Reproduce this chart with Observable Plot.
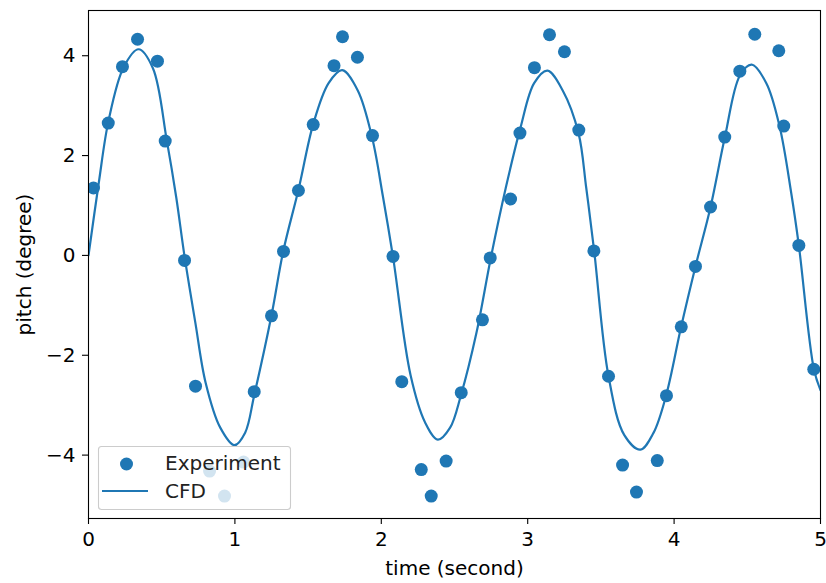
<!DOCTYPE html>
<html>
<head>
<meta charset="utf-8">
<script src="https://cdn.jsdelivr.net/npm/d3@7"></script>
<script src="https://cdn.jsdelivr.net/npm/@observablehq/plot@0.6"></script>
<style>
  html, body { margin: 0; padding: 0; background: white; }
  #chart { width: 826px; height: 583px; }
</style>
</head>
<body>
<div id="chart"></div>
<script>
// Experiment (scatter)
const expTime = [0.034, 0.135, 0.232, 0.335, 0.471, 0.524, 0.656, 0.731, 0.827, 0.929,
  1.059, 1.132, 1.25, 1.332, 1.434, 1.535, 1.677, 1.735, 1.837, 1.94,
  2.08, 2.14, 2.273, 2.341, 2.443, 2.546, 2.691, 2.744, 2.883, 2.947,
  3.046, 3.149, 3.251, 3.349, 3.452, 3.552, 3.648, 3.743, 3.885, 3.948,
  4.049, 4.146, 4.249, 4.346, 4.449, 4.551, 4.715, 4.749, 4.852, 4.954];
const expPitch = [1.35, 2.65, 3.78, 4.33, 3.89, 2.29, -0.10, -2.62, -4.32, -4.82,
  -4.14, -2.73, -1.21, 0.08, 1.30, 2.62, 3.80, 4.38, 3.97, 2.40,
  -0.02, -2.53, -4.29, -4.82, -4.12, -2.75, -1.29, -0.05, 1.13, 2.45,
  3.76, 4.42, 4.08, 2.51, 0.09, -2.42, -4.20, -4.74, -4.11, -2.81,
  -1.43, -0.22, 0.97, 2.37, 3.69, 4.43, 4.10, 2.59, 0.20, -2.28];

// CFD (line)
const cfdTime = [0, 0.07, 0.137, 0.24, 0.342, 0.44, 0.535, 0.60, 0.655, 0.73,
  0.80, 0.90, 0.997, 1.07, 1.132, 1.25, 1.33, 1.437, 1.535, 1.64,
  1.733, 1.84, 1.938, 2.01, 2.08, 2.2, 2.30, 2.386, 2.47, 2.544,
  2.65, 2.748, 2.85, 2.95, 3.044, 3.135, 3.24, 3.347, 3.40, 3.454,
  3.552, 3.66, 3.77, 3.86, 3.946, 4.048, 4.146, 4.249, 4.347, 4.449,
  4.53, 4.63, 4.72, 4.80, 4.852, 4.955, 5.0];
const cfdPitch = [0, 1.45, 2.7, 3.77, 4.13, 3.75, 2.3, 1.15, 0, -1.35,
  -2.55, -3.45, -3.8, -3.55, -2.8, -1.2, 0.08, 1.35, 2.63, 3.45,
  3.71, 3.3, 2.35, 1.2, -0.03, -2.4, -3.35, -3.69, -3.45, -2.8,
  -1.55, -0.05, 1.35, 2.55, 3.45, 3.7, 3.3, 2.45, 1.35, 0.09,
  -2.42, -3.6, -3.89, -3.55, -2.8, -1.43, -0.22, 0.97, 2.37, 3.6,
  3.82, 3.45, 2.59, 1.25, 0.2, -2.28, -2.7];

const xTicks = [0, 1, 2, 3, 4, 5];
const yTicks = [-4, -2, 0, 2, 4];
const seriesNames = ["Experiment", "CFD"];
const xLabel = "time (second)";
const yLabel = "pitch (degree)";

const blue = "#1f77b4";
const FONT = "DejaVu Sans";
const FS = 20;
const fmt = d3.format("d");

const expData = expTime.map((t, i) => ({t, p: expPitch[i]}));
const cfdData = cfdTime.map((t, i) => ({t, p: cfdPitch[i]}));

const chart = Plot.plot({
  width: 826,
  height: 583,
  marginLeft: 88,
  marginRight: 6,
  marginTop: 10,
  marginBottom: 65,
  style: {fontFamily: FONT, fontSize: FS + "px", background: "white", color: "black"},
  x: {domain: [0, 5]},
  y: {domain: [-5.27, 4.906]},
  marks: [
    Plot.dot(expData, {x: "t", y: "p", r: 6.5, fill: blue, stroke: "none", clip: true}),
    Plot.line(cfdData, {x: "t", y: "p", stroke: blue, strokeWidth: 2.2, curve: "catmull-rom", clip: true}),
    Plot.axisX({ticks: xTicks, tickFormat: fmt, tickSize: 6, tickPadding: 7, label: null, fontSize: FS, stroke: "black", strokeWidth: 1.1}),
    Plot.axisY({ticks: yTicks, tickFormat: fmt, tickSize: 6, tickPadding: 7, label: null, fontSize: FS, stroke: "black", strokeWidth: 1.1}),
    Plot.frame({stroke: "black", strokeWidth: 1.1}),
    Plot.text([xLabel], {frameAnchor: "bottom", lineAnchor: "middle", textAnchor: "middle", dy: 50, fontSize: FS, fill: "black"}),
    Plot.text([yLabel], {frameAnchor: "left", lineAnchor: "middle", textAnchor: "middle", dx: -64, rotate: -90, fontSize: FS, fill: "black"})
  ]
});

document.getElementById("chart").appendChild(chart);

// Legend (matplotlib style, lower left inside the axes)
const svg = d3.select(chart);
const lg = svg.append("g").attr("font-family", FONT).attr("font-size", FS).attr("text-anchor", "start");
lg.append("rect")
  .attr("x", 98.5).attr("y", 446.5).attr("width", 192).attr("height", 63)
  .attr("rx", 3).attr("ry", 3)
  .attr("fill", "white").attr("fill-opacity", 0.8)
  .attr("stroke", "#cccccc").attr("stroke-width", 1.1);
lg.append("circle").attr("cx", 126.5).attr("cy", 464).attr("r", 6.5).attr("fill", blue);
lg.append("text").attr("x", 165).attr("y", 470).attr("fill", "#222").text(seriesNames[0]);
lg.append("line").attr("x1", 102).attr("x2", 148).attr("y1", 491).attr("y2", 491)
  .attr("stroke", blue).attr("stroke-width", 2.2);
lg.append("text").attr("x", 165).attr("y", 498).attr("fill", "#222").text(seriesNames[1]);
</script>
</body>
</html>
